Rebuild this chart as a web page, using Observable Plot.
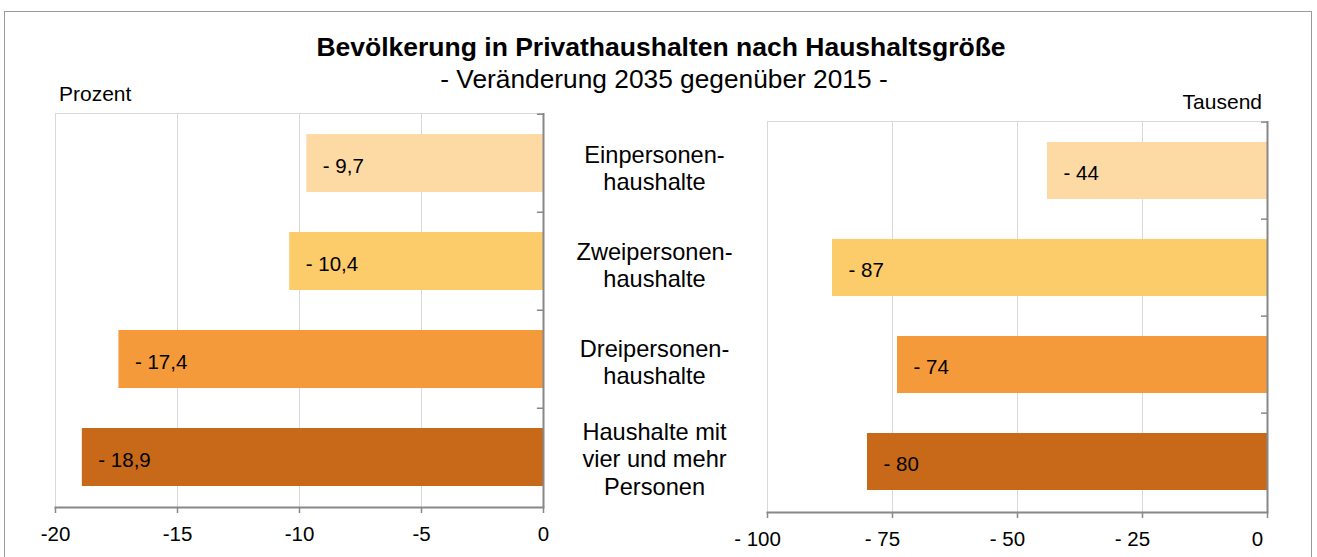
<!DOCTYPE html>
<html>
<head>
<meta charset="utf-8">
<script src="https://cdn.jsdelivr.net/npm/d3@7"></script>
<script src="https://cdn.jsdelivr.net/npm/@observablehq/plot@0.6"></script>
<style>
  html, body { margin: 0; padding: 0; background: #fff; }
  body { font-family: "Liberation Sans", Arial, sans-serif; }
  #wrap { position: relative; width: 1317px; height: 557px; overflow: hidden; background: #fff; }
  #border { position: absolute; left: 4px; top: 11px; width: 1308px; height: 600px; border: 1px solid #9a9a9a; box-sizing: border-box; }
  .t { position: absolute; line-height: 1; white-space: nowrap; color: #000; }
  #left, #right { position: absolute; top: 0; }
  #left { left: 0; }
  #right { left: 575px; }
  svg { overflow: visible; }
</style>
</head>
<body>
<div id="wrap">
  <div id="border"></div>
  <div id="left"></div>
  <div id="right"></div>
  <div class="t" id="title" style="left:0;width:1322px;text-align:center;top:34px;font-size:26.5px;font-weight:bold;">Bevölkerung in Privathaushalten nach Haushaltsgröße</div>
  <div class="t" id="subtitle" style="left:0;width:1328px;text-align:center;top:65.5px;font-size:26.3px;">- Veränderung 2035 gegenüber 2015 -</div>
  <div class="t" id="unitLeft" style="left:59px;top:83px;font-size:21px;">Prozent</div>
  <div class="t" id="unitRight" style="right:55px;top:91px;font-size:21px;">Tausend</div>
</div>
<script>
// ---- data ----
const categories = [
  "Einpersonen-\nhaushalte",
  "Zweipersonen-\nhaushalte",
  "Dreipersonen-\nhaushalte",
  "Haushalte mit\nvier und mehr\nPersonen"
];
const percentChange = [-9.7, -10.4, -17.4, -18.9];
const thousandChange = [-44, -87, -74, -80];
const percentTicks = [-20, -15, -10, -5, 0];
const thousandTicks = [-100, -75, -50, -25, 0];
const barColors = ["#FDDAA4", "#FCCB6A", "#F49A3B", "#C8691A"];

const leftData = categories.map((c, i) => ({cat: c, value: percentChange[i]}));
const rightData = categories.map((c, i) => ({cat: c, value: thousandChange[i]}));

const fontFamily = "'Liberation Sans', Arial, sans-serif";
const fmtPct = v => "- " + String(Math.abs(v)).replace(".", ",");
const fmtTh = v => v === 0 ? "0" : "- " + Math.abs(v);

function panel({data, width, height, marginLeft, marginRight, marginTop, marginBottom, domain, ticks, tickFormat, labelFormat, tickPad, tickDx, yTick, withCategories}) {
  const step = (height - marginTop - marginBottom) / categories.length;
  const marks = [
    Plot.frame({stroke: "#d9d9d9"}),
    Plot.ruleX(ticks, {stroke: "#d9d9d9", strokeWidth: 1}),
    Plot.barX(data, {x: "value", y: "cat", fill: "cat"}),
    Plot.text(data, {x: "value", y: "cat", text: d => labelFormat(d.value), textAnchor: "start", dx: 16, dy: 2.5, fontSize: 20.5, fill: "#000"}),
    Plot.ruleY(categories, {y: d => d, x1: yTick, x2: 0, dy: -step / 2, stroke: "#888", strokeWidth: 1.5}),
    Plot.ruleX([0], {stroke: "#888", strokeWidth: 2}),
    Plot.frame({anchor: "bottom", stroke: "#888", strokeWidth: 2}),
    Plot.axisX({ticks, tickSize: 6, tickFormat: () => "", stroke: "#888", strokeWidth: 1.5, label: null}),
    Plot.axisX({ticks, tickFormat, tickSize: 0, tickPadding: 6 + tickPad, dx: tickDx, fill: "#000", fontSize: 20.5, label: null})
  ];
  if (withCategories) {
    marks.push(Plot.text(categories, {y: d => d, text: d => d, frameAnchor: "left", dx: -113, dy: -3.5, textAnchor: "middle", lineAnchor: "middle", lineHeight: 1.17, fontSize: 23.6, fill: "#000"}));
  }
  return Plot.plot({
    width, height, marginLeft, marginRight, marginTop, marginBottom,
    x: {domain},
    y: {domain: categories, axis: null, paddingInner: 0.41, paddingOuter: 0.205},
    color: {domain: categories, range: barColors},
    style: {fontFamily, fontSize: "20px", color: "#000", background: "transparent", overflow: "visible"},
    marks
  });
}

document.getElementById("left").appendChild(panel({
  data: leftData, width: 575, height: 557,
  marginLeft: 55, marginRight: 32, marginTop: 113, marginBottom: 50,
  domain: [-20, 0], ticks: percentTicks, tickFormat: d => String(d), labelFormat: fmtPct,
  tickPad: 12.5, tickDx: 0, yTick: -0.25, withCategories: false
}));

document.getElementById("right").appendChild(panel({
  data: rightData, width: 742, height: 557,
  marginLeft: 192, marginRight: 50, marginTop: 121, marginBottom: 45,
  domain: [-100, 0], ticks: thousandTicks, tickFormat: fmtTh, labelFormat: fmtTh,
  tickPad: 13, tickDx: -10, yTick: -1.2, withCategories: true
}));
</script>
</body>
</html>
